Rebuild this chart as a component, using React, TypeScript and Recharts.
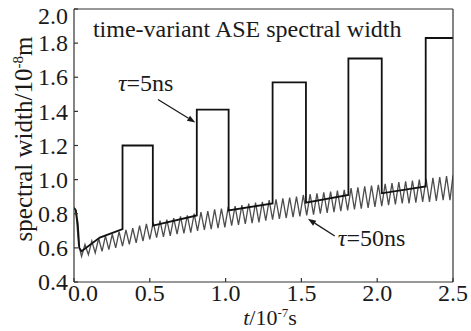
import { LineChart, Line, XAxis, YAxis, ReferenceLine, ReferenceDot } from 'recharts';

const FONT = '"Liberation Serif", "Times New Roman", serif';
const INK = '#1a1a1a';

// axis ticks
const xTicks = [0, 0.5, 1.0, 1.5, 2.0, 2.5];
const yTicks = [0.4, 0.6, 0.8, 1.0, 1.2, 1.4, 1.6, 1.8, 2.0];

// tau = 5ns, black pulsed curve
const fastT = [0, 0.012, 0.025, 0.035, 0.05, 0.17, 0.32, 0.32, 0.52, 0.52, 0.81, 0.81, 1.02, 1.02, 1.31, 1.31, 1.53, 1.53, 1.81, 1.81, 2.03, 2.03, 2.32, 2.32, 2.5];
const fastV = [0.835, 0.82, 0.74, 0.6, 0.58, 0.66, 0.71, 1.2, 1.2, 0.73, 0.79, 1.41, 1.41, 0.82, 0.86, 1.57, 1.57, 0.865, 0.91, 1.71, 1.71, 0.92, 0.96, 1.83, 1.83];

// tau = 50ns, grey sawtooth: start, then troughs and peaks
const slowStartT = [0, 0.012, 0.03];
const slowStartV = [0.835, 0.82, 0.62];
const troughT = [0.05, 0.095, 0.14, 0.185, 0.23, 0.275, 0.32, 0.365, 0.41, 0.455, 0.5, 0.545, 0.59, 0.635, 0.68, 0.725, 0.77, 0.815, 0.86, 0.905, 0.95, 0.995, 1.04, 1.085, 1.13, 1.175, 1.22, 1.265, 1.31, 1.355, 1.4, 1.445, 1.49, 1.535, 1.58, 1.625, 1.67, 1.715, 1.76, 1.805, 1.85, 1.895, 1.94, 1.985, 2.03, 2.075, 2.12, 2.165, 2.21, 2.255, 2.3, 2.345, 2.39, 2.435, 2.48];
const troughV = [0.55, 0.56, 0.57, 0.58, 0.59, 0.6, 0.61, 0.62, 0.63, 0.64, 0.65, 0.66, 0.665, 0.67, 0.68, 0.685, 0.69, 0.7, 0.705, 0.71, 0.715, 0.72, 0.73, 0.735, 0.74, 0.745, 0.75, 0.76, 0.765, 0.77, 0.775, 0.78, 0.785, 0.79, 0.795, 0.8, 0.805, 0.81, 0.815, 0.82, 0.825, 0.83, 0.835, 0.84, 0.845, 0.85, 0.855, 0.86, 0.86, 0.865, 0.87, 0.87, 0.875, 0.88, 0.88];
const peakT = [0.0725, 0.1175, 0.1625, 0.2075, 0.2525, 0.2975, 0.3425, 0.3875, 0.4325, 0.4775, 0.5225, 0.5675, 0.6125, 0.6575, 0.7025, 0.7475, 0.7925, 0.8375, 0.8825, 0.9275, 0.9725, 1.0175, 1.0625, 1.1075, 1.1525, 1.1975, 1.2425, 1.2875, 1.3325, 1.3775, 1.4225, 1.4675, 1.5125, 1.5575, 1.6025, 1.6475, 1.6925, 1.7375, 1.7825, 1.8275, 1.8725, 1.9175, 1.9625, 2.0075, 2.0525, 2.0975, 2.1425, 2.1875, 2.2325, 2.2775, 2.3225, 2.3675, 2.4125, 2.4575, 2.5];
const peakV = [0.62, 0.64, 0.655, 0.67, 0.68, 0.695, 0.705, 0.715, 0.73, 0.74, 0.75, 0.76, 0.765, 0.775, 0.785, 0.79, 0.8, 0.81, 0.815, 0.825, 0.83, 0.84, 0.845, 0.85, 0.86, 0.865, 0.87, 0.88, 0.885, 0.89, 0.895, 0.9, 0.91, 0.915, 0.92, 0.925, 0.93, 0.935, 0.94, 0.95, 0.955, 0.96, 0.965, 0.97, 0.975, 0.98, 0.985, 0.99, 0.995, 1.0, 1.005, 1.01, 1.015, 1.02, 1.025];

const fastData = fastT.map((t, i) => ({ t, v: fastV[i] }));
const slowData = [
  ...slowStartT.map((t, i) => ({ t, v: slowStartV[i] })),
  ...troughT.flatMap((t, i) => [
    { t, v: troughV[i] },
    { t: peakT[i], v: peakV[i] },
  ]),
];

const BottomTick = ({ x, y, payload }: any) => {
  const shift = payload.value === 0 ? 9 : 0;
  return (
    <text x={x + shift} y={y} dy="0.71em" textAnchor="middle" fontFamily={FONT} fontSize={24} fill={INK}>
      {Number(payload.value).toFixed(1)}
    </text>
  );
};

const LeftTick = ({ x, y, payload }: any) => {
  const shift = payload.value === 2 ? 7 : 0;
  return (
    <text x={x} y={y + shift} dy="0.34em" textAnchor="end" fontFamily={FONT} fontSize={24} fill={INK}>
      {Number(payload.value).toFixed(1)}
    </text>
  );
};

const YTitle = () => (
  <text transform="translate(32,139) rotate(-90)" textAnchor="middle" fontFamily={FONT} fontSize={25} fill={INK}>
    spectral width/10<tspan dy={-9} fontSize={15}>-8</tspan><tspan dy={9}>m</tspan>
  </text>
);

const XTitle = () => (
  <text x={270} y={325} textAnchor="middle" fontFamily={FONT} fontSize={22} fill={INK}>
    <tspan fontStyle="italic">t</tspan>/10<tspan dy={-8} fontSize={13}>-7</tspan><tspan dy={8}>s</tspan>
  </text>
);

const note = (body: any) => (p: any) => (
  <text x={p.cx} y={p.cy} fontFamily={FONT} fontSize={24} fill={INK}>{body}</text>
);

const arrow = (p: any) => {
  const { x1, y1, x2, y2 } = p;
  const a = Math.atan2(y2 - y1, x2 - x1);
  const L = 8, W = 3;
  const bx = x2 - L * Math.cos(a), by = y2 - L * Math.sin(a);
  const pts = `${x2},${y2} ${bx + W * Math.sin(a)},${by - W * Math.cos(a)} ${bx - W * Math.sin(a)},${by + W * Math.cos(a)}`;
  return (
    <g>
      <line x1={x1} y1={y1} x2={bx} y2={by} stroke={INK} strokeWidth={1.3} />
      <polygon points={pts} fill={INK} />
    </g>
  );
};

export default function App() {
  return (
    <div style={{ position: 'fixed', left: 0, top: 0, background: '#fff', fontFamily: FONT }}>
      <LineChart width={471} height={331} margin={{ top: 8, right: 17, bottom: 4, left: 0 }}>
        <XAxis xAxisId="b" type="number" dataKey="t" domain={[0, 2.5]} ticks={xTicks} height={45}
          tickSize={-4} tickMargin={6} tick={<BottomTick />} stroke="#333" strokeWidth={1.2}
          label={<XTitle />} allowDataOverflow />
        <XAxis xAxisId="top" orientation="top" type="number" domain={[0, 2.5]} ticks={xTicks} height={1}
          tickSize={-4} tick={false} stroke="#333" strokeWidth={1.2} allowDataOverflow />
        <YAxis yAxisId="l" type="number" domain={[0.4, 2.0]} ticks={yTicks} width={74}
          tickSize={-4} tickMargin={10} tick={<LeftTick />} stroke="#333" strokeWidth={1.2}
          label={<YTitle />} allowDataOverflow />
        <YAxis yAxisId="r" orientation="right" type="number" domain={[0.4, 2.0]} ticks={yTicks} width={1}
          tickSize={-4} tick={false} stroke="#333" strokeWidth={1.2} allowDataOverflow />

        <Line xAxisId="b" yAxisId="l" data={slowData} dataKey="v" type="linear" dot={false}
          stroke="#4d4d4d" strokeWidth={1.3} isAnimationActive={false} />
        <Line xAxisId="b" yAxisId="l" data={fastData} dataKey="v" type="linear" dot={false}
          stroke="#111" strokeWidth={1.8} isAnimationActive={false} />

        <ReferenceDot xAxisId="b" yAxisId="l" x={0.125} y={1.835} r={0}
          shape={note('time-variant ASE spectral width')} />
        <ReferenceDot xAxisId="b" yAxisId="l" x={0.29} y={1.518} r={0}
          shape={note(<><tspan fontStyle="italic">τ</tspan>=5ns</>)} />
        <ReferenceDot xAxisId="b" yAxisId="l" x={1.74} y={0.612} r={0}
          shape={note(<><tspan fontStyle="italic">τ</tspan>=50ns</>)} />
        <ReferenceLine xAxisId="b" yAxisId="l" segment={[{ x: 0.554, y: 1.47 }, { x: 0.8, y: 1.335 }]} shape={arrow} />
        <ReferenceLine xAxisId="b" yAxisId="l" segment={[{ x: 1.72, y: 0.67 }, { x: 1.543, y: 0.77 }]} shape={arrow} />
      </LineChart>
    </div>
  );
}
